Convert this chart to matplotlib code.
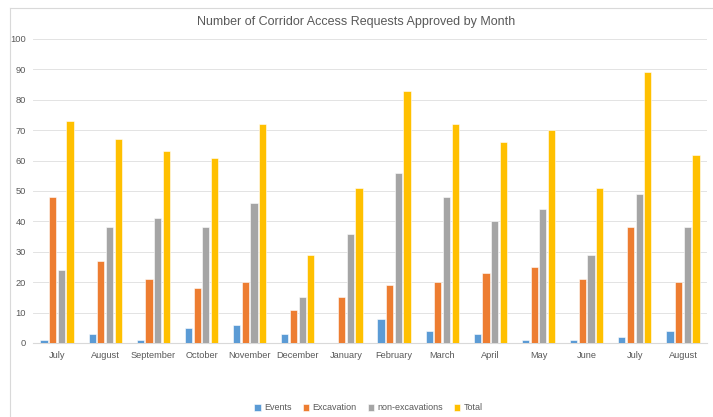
import matplotlib.pyplot as plt
import numpy as np
from matplotlib.lines import Line2D

months = ["July", "August", "September", "October", "November", "December", "January",
          "February", "March", "April", "May", "June", "July", "August"]
events = [1, 3, 1, 5, 6, 3, 0, 8, 4, 3, 1, 1, 2, 4]
excavation = [48, 27, 21, 18, 20, 11, 15, 19, 20, 23, 25, 21, 38, 20]
non_excavations = [24, 38, 41, 38, 46, 15, 36, 56, 48, 40, 44, 29, 49, 38]
total = [73, 67, 63, 61, 72, 29, 51, 83, 72, 66, 70, 51, 89, 62]

series = [("Events", events, "#5B9BD5"),
          ("Excavation", excavation, "#ED7D31"),
          ("non-excavations", non_excavations, "#A5A5A5"),
          ("Total", total, "#FFC000")]

plt.rcParams["font.family"] = ["Liberation Sans", "DejaVu Sans"]
txt = "#595959"
fig = plt.figure(figsize=(7.13, 4.17), dpi=100)
ax = fig.add_axes([33 / 713, 1 - 343 / 417, 674 / 713, 304 / 417])

x = np.arange(len(months))
step = 0.18
width = 0.15
for i, (name, vals, col) in enumerate(series):
    ax.bar(x + (i - 1.5) * step, vals, width, color=col, label=name,
           edgecolor="white", linewidth=0.4, zorder=3)

ax.set_xlim(-0.5, len(months) - 0.5)
ax.set_ylim(0, 100)
ax.set_yticks(range(0, 101, 10))
ax.set_xticks(x)
ax.set_xticklabels(months)
ax.tick_params(axis="both", length=0, labelsize=6.7, colors=txt)
ax.tick_params(axis="y", pad=5)
ax.tick_params(axis="x", pad=6)
ax.grid(axis="y", color="#E3E3E3", linewidth=0.7, zorder=0)
for s in ["top", "right", "left"]:
    ax.spines[s].set_visible(False)
ax.spines["bottom"].set_color("#D9D9D9")

fig.text(0.5, 1 - 22 / 417, "Number of Corridor Access Requests Approved by Month",
         ha="center", va="center", fontsize=9, color=txt)

ax.legend(loc="center", bbox_to_anchor=(0.517, (1 - 408 / 417)), bbox_transform=fig.transFigure,
          ncol=4, frameon=False, fontsize=6.5, labelcolor=txt,
          handlelength=0.7, handleheight=0.7, handletextpad=0.4, columnspacing=1.2)

# chart border (left and top edges visible)
fig.add_artist(Line2D([10 / 713, 10 / 713], [0, 1 - 8 / 417], color="#D9D9D9", lw=0.8))
fig.add_artist(Line2D([10 / 713, 1], [1 - 8 / 417, 1 - 8 / 417], color="#D9D9D9", lw=0.8))

fig.savefig("out.png", dpi=100)
